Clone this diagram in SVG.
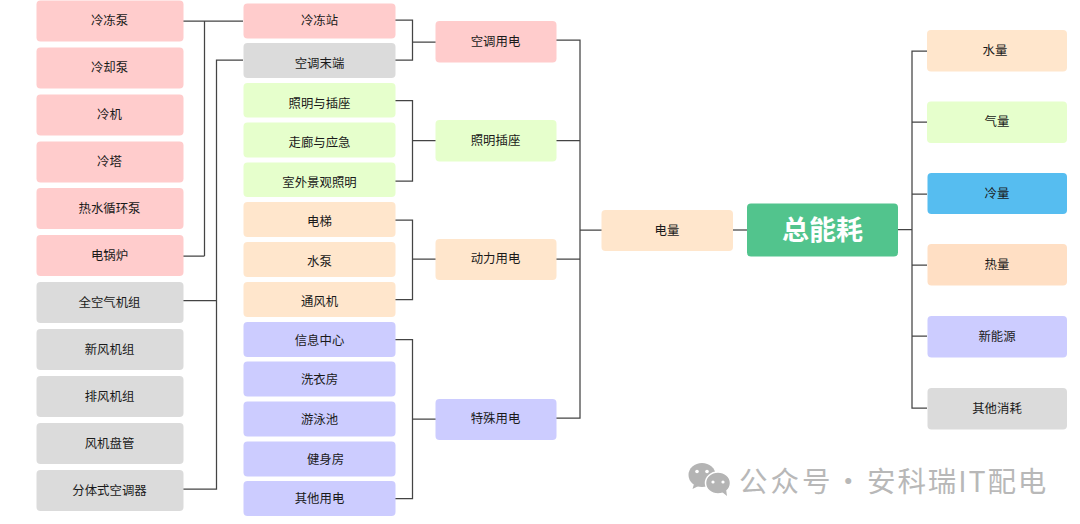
<svg xmlns="http://www.w3.org/2000/svg" width="1080" height="524" viewBox="0 0 1080 524">
<style>
text{font-family:"Noto Sans CJK SC","Noto Sans",sans-serif;font-size:12.4px;fill:#1a1a1a;text-anchor:middle;dominant-baseline:central}
rect{rx:4px;ry:4px}
.r{fill:#ffcccc}.g{fill:#dbdbdb}.l{fill:#e6ffcc}.o{fill:#ffe6cc}.p{fill:#ccccff}.h{fill:#ffdfc4}
#connectors path{fill:none;stroke:#444;stroke-width:1.250}
</style>
<rect width="1080" height="524" fill="#fff" style="rx:0;ry:0"/>
<g id="connectors">
<path d="M183 21H243M204.500 21V256M183 256H204.500"/>
<path d="M243 60H216.500V489H183M183 300.500H216.500"/>
<path d="M395 20H412.500V60H395M412.500 42H436"/>
<path d="M395 100.500H412.500V181H395M412.500 140.500H436"/>
<path d="M395 220H412.500V299.500H395M412.500 259H436"/>
<path d="M395 339.500H412.500V498.500H395M412.500 419H436"/>
<path d="M556 40H580V418H556M556 140.500H580M556 259H580M580 230H602"/>
<path d="M732 230H748"/>
<path d="M897 229.500H912M927 51H912V408H927M912 122H927M912 194H927M912 265H927M912 336H927"/>
</g>
<g id="n1"><rect class="r" x="36.500" y="0.500" width="147" height="41"/><text x="109.500" y="20">冷冻泵</text></g>
<g id="n2"><rect class="r" x="36.500" y="47.500" width="147" height="41"/><text x="109.500" y="67">冷却泵</text></g>
<g id="n3"><rect class="r" x="36.500" y="94.500" width="147" height="41"/><text x="109.500" y="114">冷机</text></g>
<g id="n4"><rect class="r" x="36.500" y="141.500" width="147" height="41"/><text x="109.500" y="161">冷塔</text></g>
<g id="n5"><rect class="r" x="36.500" y="188" width="147" height="41"/><text x="109.500" y="207.500">热水循环泵</text></g>
<g id="n6"><rect class="r" x="36.500" y="235" width="147" height="41"/><text x="109.500" y="254.500">电锅炉</text></g>
<g id="n7"><rect class="g" x="36.500" y="282" width="147" height="41"/><text x="109.500" y="301.500">全空气机组</text></g>
<g id="n8"><rect class="g" x="36.500" y="329" width="147" height="41"/><text x="109.500" y="348.500">新风机组</text></g>
<g id="n9"><rect class="g" x="36.500" y="376" width="147" height="41"/><text x="109.500" y="395.500">排风机组</text></g>
<g id="n10"><rect class="g" x="36.500" y="423" width="147" height="41"/><text x="109.500" y="442.500">风机盘管</text></g>
<g id="n11"><rect class="g" x="36.500" y="470" width="147" height="41"/><text x="109.500" y="489.500">分体式空调器</text></g>
<g id="m1"><rect class="r" x="243.500" y="3.500" width="152" height="35"/><text x="319.500" y="20">冷冻站</text></g>
<g id="m2"><rect class="g" x="243.500" y="43" width="152" height="35"/><text x="319.500" y="62.500">空调末端</text></g>
<g id="m3"><rect class="l" x="243.500" y="83" width="152" height="34.500"/><text x="319.500" y="102.500">照明与插座</text></g>
<g id="m4"><rect class="l" x="243.500" y="122.500" width="152" height="35"/><text x="319.500" y="142">走廊与应急</text></g>
<g id="m5"><rect class="l" x="243.500" y="162.500" width="152" height="34.500"/><text x="319.500" y="181.500">室外景观照明</text></g>
<g id="m6"><rect class="o" x="243.500" y="202" width="152" height="35"/><text x="319.500" y="220.500">电梯</text></g>
<g id="m7"><rect class="o" x="243.500" y="242" width="152" height="35"/><text x="319.500" y="260.500">水泵</text></g>
<g id="m8"><rect class="o" x="243.500" y="282" width="152" height="35"/><text x="319.500" y="300.500">通风机</text></g>
<g id="m9"><rect class="p" x="243.500" y="322" width="152" height="35"/><text x="319.500" y="339.500">信息中心</text></g>
<g id="m10"><rect class="p" x="243.500" y="361.500" width="152" height="35"/><text x="319.500" y="379">洗衣房</text></g>
<g id="m11"><rect class="p" x="243.500" y="401.500" width="152" height="35"/><text x="319.500" y="419">游泳池</text></g>
<g id="m12"><rect class="p" x="243.500" y="441.500" width="152" height="35"/><text x="325.500" y="458.500">健身房</text></g>
<g id="m13"><rect class="p" x="243.500" y="481" width="152" height="35"/><text x="319.500" y="498">其他用电</text></g>
<g id="c1"><rect class="r" x="435.500" y="21" width="121" height="41.500"/><text x="495.500" y="40.500">空调用电</text></g>
<g id="c2"><rect class="l" x="435.500" y="120" width="121" height="41.500"/><text x="495.500" y="140">照明插座</text></g>
<g id="c3"><rect class="o" x="435.500" y="239" width="121" height="41"/><text x="495.500" y="258">动力用电</text></g>
<g id="c4"><rect class="p" x="435.500" y="399" width="121" height="41"/><text x="495.500" y="418">特殊用电</text></g>
<g id="power"><rect class="o" x="601.500" y="210" width="131.500" height="41"/><text x="667" y="229.500">电量</text></g>
<g id="total"><rect x="747" y="203.500" width="151" height="53" fill="#52c48d"/><text x="822.500" y="228.500" style="font-size:27px;font-weight:700;fill:#fff">总能耗</text></g>
<g id="r1"><rect class="o" x="927" y="30" width="140" height="41.500"/><text x="995" y="49.500">水量</text></g>
<g id="r2"><rect class="l" x="927" y="101.500" width="140" height="41.500"/><text x="997" y="121">气量</text></g>
<g id="r3"><rect x="927.500" y="173" width="139.500" height="41" fill="#56bdf0"/><text x="997" y="192.500">冷量</text></g>
<g id="r4"><rect class="h" x="927.500" y="244" width="139.500" height="41.500"/><text x="997" y="263.500">热量</text></g>
<g id="r5"><rect class="p" x="927.500" y="316" width="139.500" height="41.500"/><text x="997" y="335.500">新能源</text></g>
<g id="r6"><rect class="g" x="927.500" y="388" width="139.500" height="41.500"/><text x="997" y="408">其他消耗</text></g>
<g id="watermark">
<ellipse cx="702" cy="475" rx="13.500" ry="12" fill="#b4b4b4"/>
<path d="M694 484l-1.500 5 6-3z" fill="#b4b4b4"/>
<ellipse cx="718" cy="483" rx="12.500" ry="11" fill="#b4b4b4" stroke="#fff" stroke-width="1.500"/>
<path d="M722 492l5 4-1-7z" fill="#b4b4b4"/>
<circle cx="697" cy="471.500" r="1.800" fill="#fff"/><circle cx="707" cy="471.500" r="1.800" fill="#fff"/>
<circle cx="713" cy="482" r="1.600" fill="#fff"/><circle cx="723" cy="482" r="1.600" fill="#fff"/>
<text y="479" style="font-size:28.500px;fill:#b8b8b8;text-anchor:start;letter-spacing:3px"><tspan x="739">公众号</tspan><tspan x="834">·</tspan><tspan x="867" style="letter-spacing:1.900px">安科瑞IT配电</tspan></text>
</g>
</svg>
